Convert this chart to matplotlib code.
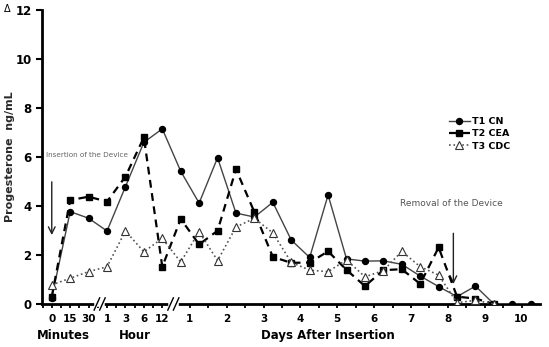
import numpy as np
import matplotlib.pyplot as plt

# eje x: 0,15,30 min | 1,3,6,12 h | medios dias (0.75 .. 10.25)
t1_cn = [0.25, 3.77, 3.5, 2.98, 4.79, 6.6, 7.15,
         5.42, 4.12, 5.97, 3.71, 3.55, 4.15, 2.61, 1.9, 4.45, 1.84,
         1.75, 1.76, 1.62, 1.14, 0.71, 0.3, 0.73, 0.0, 0.0, 0.0]
t2_cea = [0.3, 4.24, 4.38, 4.18, 5.2, 6.8, 1.52,
          3.47, 2.43, 2.99, 5.5, 3.75, 1.92, 1.68, 1.69, 2.15, 1.39,
          0.73, 1.38, 1.42, 0.82, 2.31, 0.3, 0.22, 0.0]
t3_cdc = [0.78, 1.05, 1.32, 1.52, 2.98, 2.13, 2.68,
          1.71, 2.95, 1.77, 3.14, 3.5, 2.9, 1.7, 1.38, 1.32, 1.8,
          1.11, 1.36, 2.15, 1.52, 1.18, 0.05, 0.15, 0.0]

min_labels = ["0", "15", "30"]
hour_labels = ["1", "3", "6", "12"]
day_labels = [str(d) for d in range(1, 11)]

fig = plt.figure(figsize=(5.49, 3.47), dpi=100)
ax = fig.add_axes([0.0765, 0.124, 0.907, 0.847])

ax.plot(np.arange(len(t1_cn)), t1_cn, color="#444444", lw=1.0, marker="o",
        ms=4.3, mfc="black", mec="black", label="T1 CN", zorder=3)
ax.plot(np.arange(len(t2_cea)), t2_cea, color="black", lw=1.6, ls=(0, (3.5, 2.5)),
        marker="s", ms=5, mfc="black", mec="black", label="T2 CEA", zorder=4)
ax.plot(np.arange(len(t3_cdc)), t3_cdc, color="#555555", lw=1.2, ls=":",
        marker="^", ms=5.2, mfc="white", mec="#333333", mew=0.8, label="T3 CDC", zorder=5)

ax.set_xlim(-0.53, 26.5)
ax.set_ylim(0, 12)
ax.set_yticks(range(0, 13, 2))
ax.tick_params(axis="y", labelsize=8.5, width=1.5, length=4)
for lab in ax.get_yticklabels():
    lab.set_fontweight("bold")

# ticks: posiciones enteras para min/hora, medios en los dias
pos_fijas = list(range(0, 7))
pos_dias = [7.5 + 2 * i for i in range(len(day_labels))]
ax.set_xticks(pos_fijas + pos_dias)
ax.set_xticklabels(min_labels + hour_labels + day_labels, fontsize=7.5, fontweight="bold")
menores = [7.5 + i for i in range(0, 19)] + [-0.5 + 0.5 * k for k in range(0, 14)]
ax.set_xticks(menores, minor=True)
ax.tick_params(axis="x", which="both", width=1.3, length=3, pad=4)

for s in ["top", "right"]:
    ax.spines[s].set_visible(False)
ax.spines["left"].set_linewidth(2)
ax.spines["bottom"].set_linewidth(2)

# cortes del eje
for xb in [2.6, 6.6]:
    ax.plot([xb - 0.12, xb + 0.12], [0, 0], color="white", lw=4, clip_on=False, zorder=6)
    for dx in [-0.15, 0.15]:
        ax.plot([xb + dx - 0.15, xb + dx + 0.15], [-0.25, 0.25], color="black",
                lw=1, clip_on=False, zorder=7)

ax.set_ylabel("Progesterone  ng/mL", fontsize=8, fontweight="bold", color="#2a2a2a")
ax.yaxis.set_label_coords(-0.054, 0.5)

fig.text(0.115, 0.022, "Minutes", fontsize=8.5, fontweight="bold", ha="center")
fig.text(0.245, 0.022, "Hour", fontsize=8.5, fontweight="bold", ha="center")
fig.text(0.598, 0.022, "Days After Insertion", fontsize=8.5, fontweight="bold", ha="center")
fig.text(0.008, 0.965, "Δ", fontsize=7)

ax.annotate("", xy=(0, 2.7), xytext=(0, 5.1),
            arrowprops=dict(arrowstyle="->", color="#222222", lw=1.0, mutation_scale=12))
ax.text(-0.3, 6.1, "Insertion of the Device", fontsize=5.2, color="#666666", va="center")
ax.annotate("", xy=(21.8, 0.7), xytext=(21.8, 3.0),
            arrowprops=dict(arrowstyle="->", color="#222222", lw=1.0, mutation_scale=12))
ax.text(18.9, 4.1, "Removal of the Device", fontsize=6.5, color="#555555", va="center")

leg = ax.legend(loc="upper left", bbox_to_anchor=(0.8, 0.665), frameon=False,
                fontsize=6.8, handlelength=2.2, labelspacing=0.35, handletextpad=0.3,
                markerscale=1.0)
for txt in leg.get_texts():
    txt.set_fontweight("bold")

fig.savefig("out.png", dpi=100)
